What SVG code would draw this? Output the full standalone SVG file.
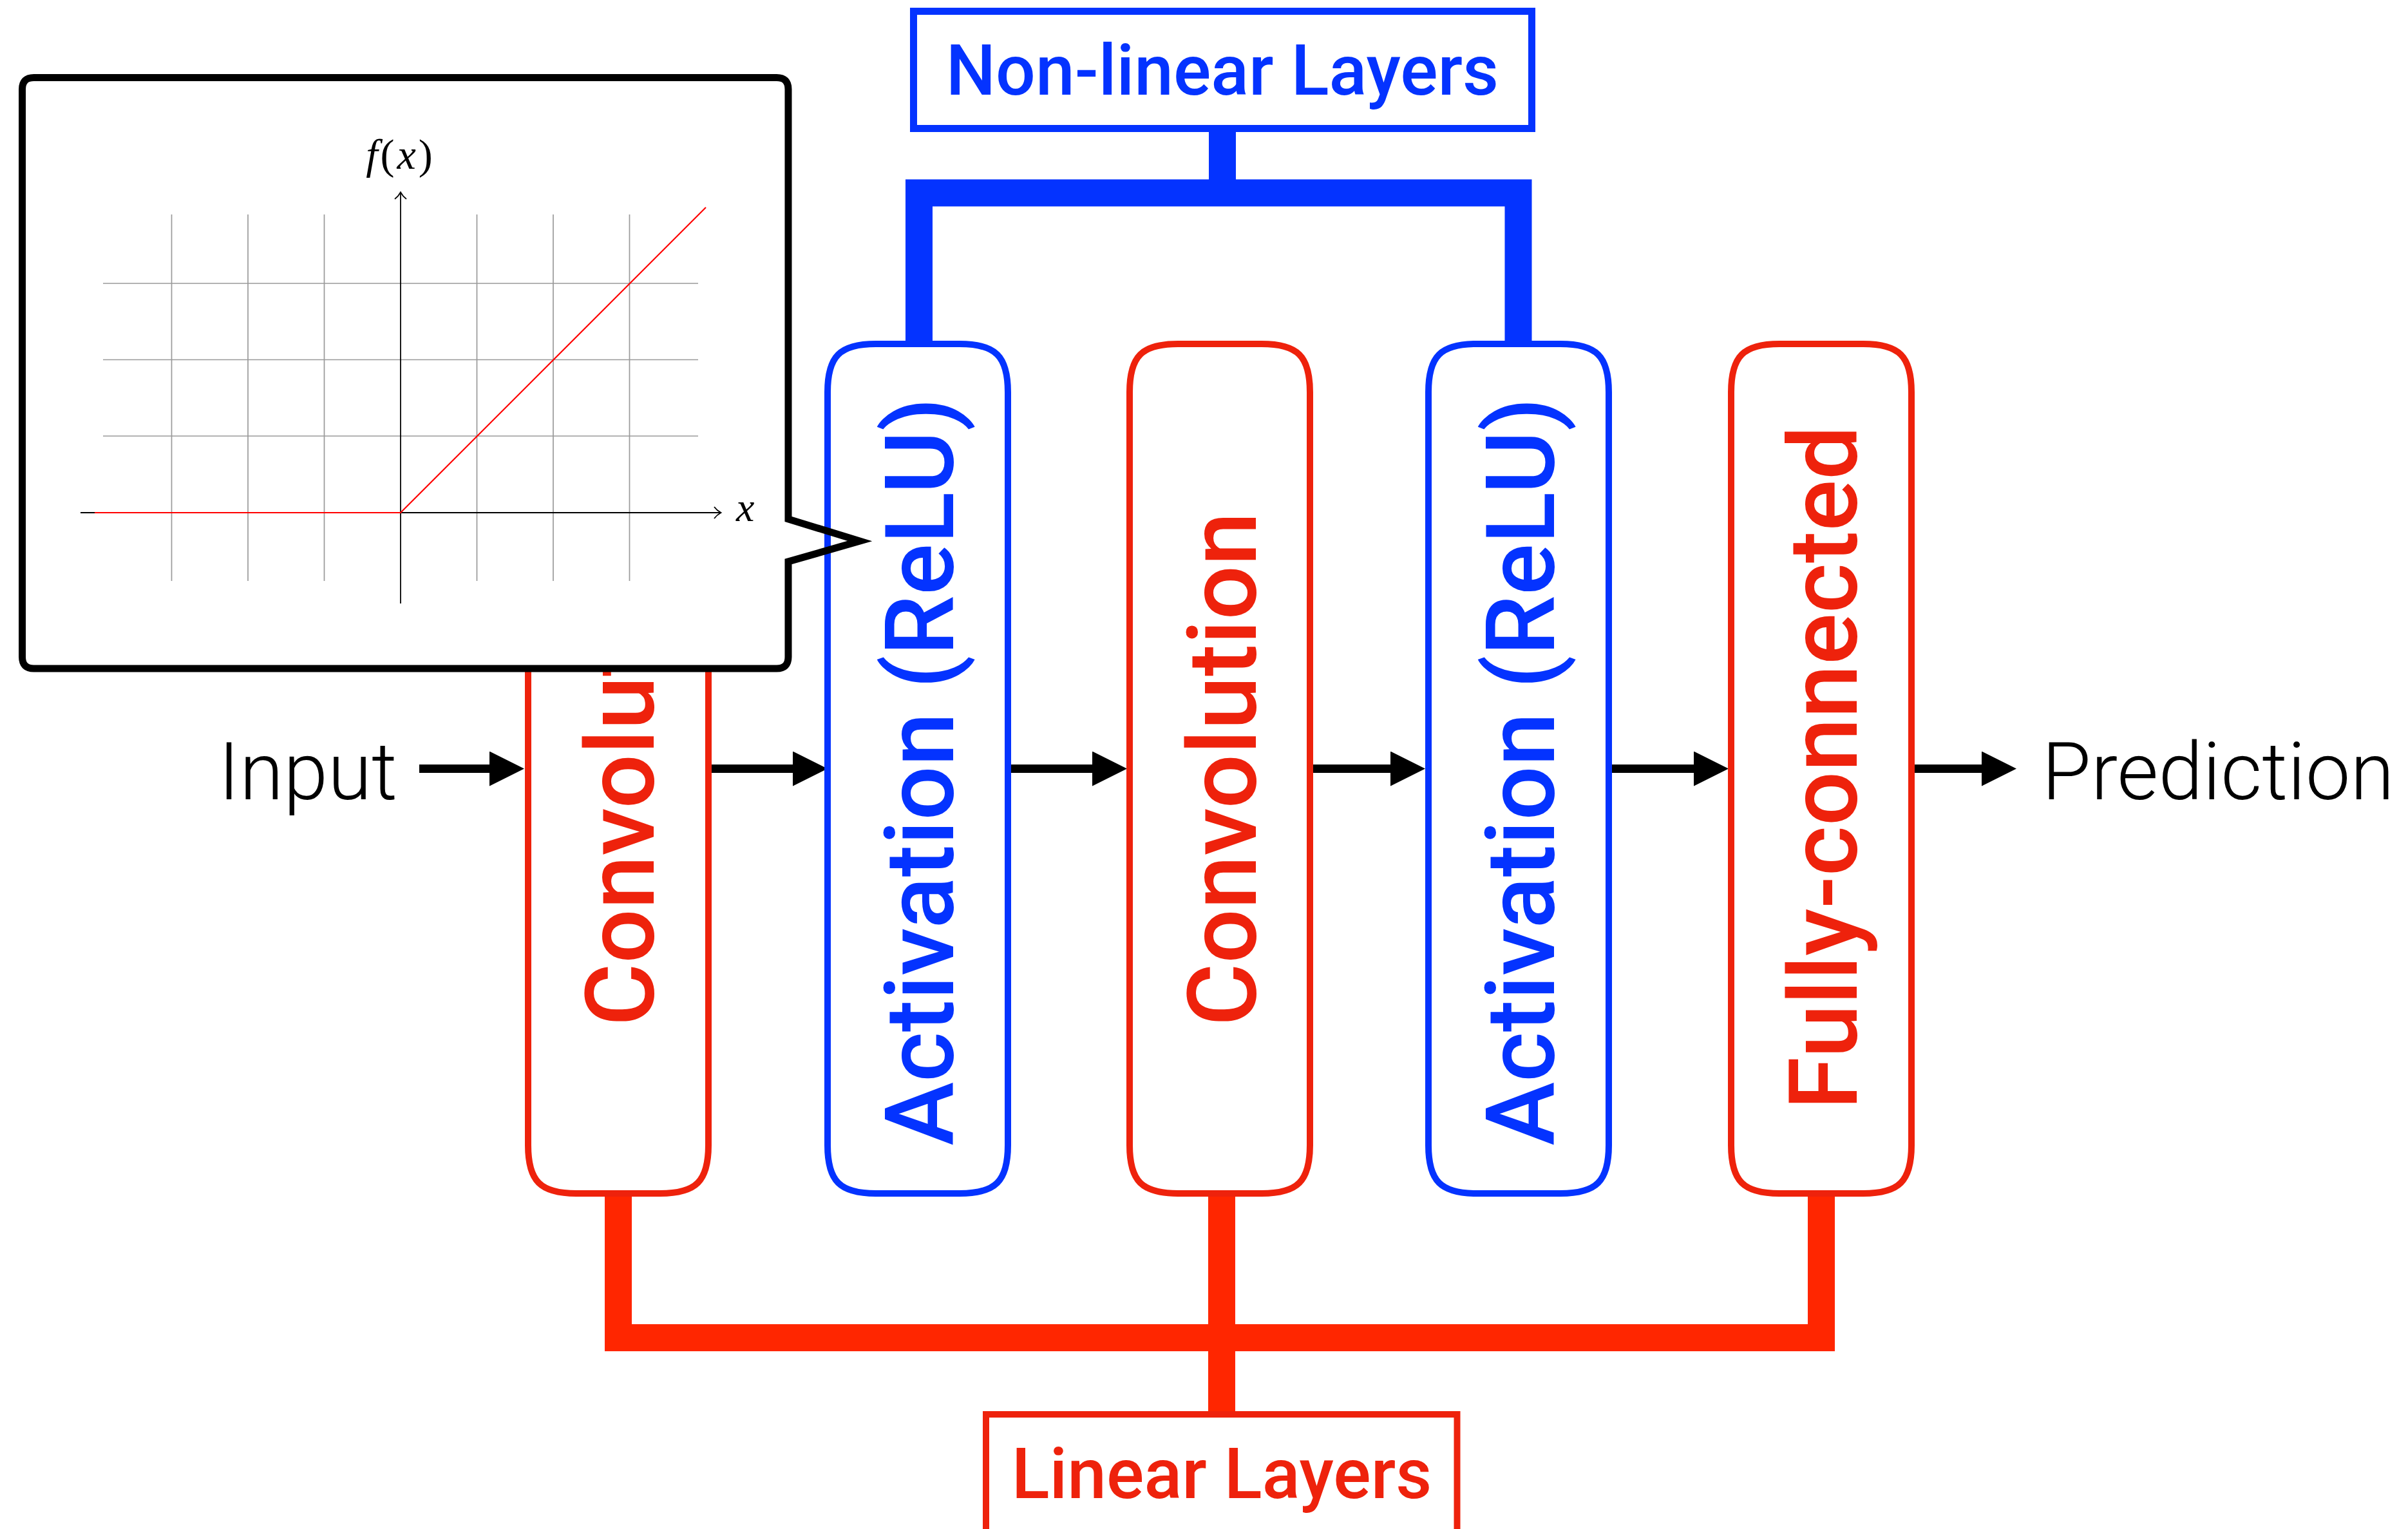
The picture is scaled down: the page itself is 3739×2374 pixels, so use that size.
<svg xmlns="http://www.w3.org/2000/svg" xmlns:xlink="http://www.w3.org/1999/xlink" width="3739" height="2374" viewBox="0 0 3739 2374">
  <style>
    .lbl { font-family: Roboto, "Liberation Sans", "DejaVu Sans", sans-serif; font-weight: 500; font-size: 149px; text-anchor: middle; }
    .title { font-family: Roboto, "Liberation Sans", "DejaVu Sans", sans-serif; font-weight: 500; font-size: 109px; text-anchor: middle; }
    .io { font-family: Roboto, "Liberation Sans", "DejaVu Sans", sans-serif; font-weight: 300; font-size: 124px; text-anchor: middle; fill: #000; }
    .math { font-family: "Liberation Serif", "DejaVu Serif", serif; fill: #000; }
    .red-box { fill: none; stroke: #EE220C; stroke-width: 10; }
    .blue-box { fill: none; stroke: #0433FF; stroke-width: 10; }
    .red-txt { fill: #EE220C; }
    .blue-txt { fill: #0433FF; }
    .flow { stroke: #000; stroke-width: 13; fill: none; marker-end: url(#head); }
    .bus-blue { stroke: #0433FF; stroke-width: 42; fill: none; stroke-linejoin: miter; }
    .bus-red { stroke: #FF2600; stroke-width: 42; fill: none; stroke-linejoin: miter; }
    .grid { stroke: #9a9a9a; stroke-width: 1.7; fill: none; }
    .axis { stroke: #000; stroke-width: 1.8; fill: none; }
  </style>
  <defs>
    <!-- tall layer box with soft continuous corners -->
    <path id="pill" d="M75,0 H205 C261,0 280,19 280,75 V1244 C280,1300 261,1319 205,1319 H75 C19,1319 0,1300 0,1244 V75 C0,19 19,0 75,0 Z"/>
    <marker id="head" markerUnits="userSpaceOnUse" markerWidth="54" markerHeight="54" viewBox="0 0 54 54" refX="2" refY="27" orient="auto">
      <path d="M0,0 L54,27 L0,54 Z" fill="#000"/>
    </marker>
  </defs>

  <rect x="0" y="0" width="3739" height="2374" fill="#fff"/>

  <!-- connectors: data-flow arrows and grouping buses -->
  <g id="connectors">
    <line class="flow" x1="651" y1="1193.5" x2="762" y2="1193.5"/>
    <line class="flow" x1="1100" y1="1193.5" x2="1233" y2="1193.5"/>
    <line class="flow" x1="1570" y1="1193.5" x2="1698" y2="1193.5"/>
    <line class="flow" x1="2038" y1="1193.5" x2="2161" y2="1193.5"/>
    <line class="flow" x1="2501" y1="1193.5" x2="2632" y2="1193.5"/>
    <line class="flow" x1="2973" y1="1193.5" x2="3079" y2="1193.5"/>

    <path class="bus-blue" d="M1427,531 V299.5 H2357.5 V531"/>
    <path class="bus-blue" d="M1898,200 V299.5"/>

    <path class="bus-red" d="M960,1856 V2077 H2828 V1856"/>
    <path class="bus-red" d="M1897,1856 V2194"/>
  </g>

  <g id="input">
    <text class="io" x="478" y="1241">Input</text>
  </g>

  <g id="conv1">
    <use xlink:href="#pill" href="#pill" x="820" y="534" class="red-box"/>
    <text class="lbl red-txt" transform="translate(1015,1194) rotate(-90)">Convolution</text>
  </g>

  <g id="act1">
    <use xlink:href="#pill" href="#pill" x="1285" y="534" class="blue-box"/>
    <text class="lbl blue-txt" transform="translate(1480,1198) rotate(-90)">Activation (ReLU)</text>
  </g>

  <g id="conv2">
    <use xlink:href="#pill" href="#pill" x="1754" y="534" class="red-box"/>
    <text class="lbl red-txt" transform="translate(1950,1194) rotate(-90)">Convolution</text>
  </g>

  <g id="act2">
    <use xlink:href="#pill" href="#pill" x="2218" y="534" class="blue-box"/>
    <text class="lbl blue-txt" transform="translate(2413,1198) rotate(-90)">Activation (ReLU)</text>
  </g>

  <g id="fc">
    <use xlink:href="#pill" href="#pill" x="2688" y="534" class="red-box"/>
    <text class="lbl red-txt" transform="translate(2883,1192) rotate(-90)">Fully-connected</text>
  </g>

  <g id="prediction">
    <text class="io" x="3444" y="1241">Prediction</text>
  </g>

  <g id="nonlinear-layers">
    <rect x="1418.5" y="17.5" width="960" height="182" fill="#fff" stroke="#0433FF" stroke-width="11"/>
    <text class="title blue-txt" x="1898" y="147">Non-linear Layers</text>
  </g>

  <g id="linear-layers">
    <rect x="1531" y="2196" width="731.5" height="200" fill="#fff" stroke="#EE220C" stroke-width="10"/>
    <text class="title red-txt" x="1897" y="2326">Linear Layers</text>
  </g>

  <!-- speech-bubble inset with the ReLU plot -->
  <g id="relu-callout">
    <rect x="34.5" y="120.5" width="1189.5" height="917.5" rx="18" fill="#fff"/>
    <path d="M52.5,120.5 H1206 Q1224,120.5 1224,138.5 V806 L1335,840 L1224,872 V1020 Q1224,1038 1206,1038 H52.5 Q34.5,1038 34.5,1020 V138.5 Q34.5,120.5 52.5,120.5 Z" fill="none" stroke="#000" stroke-width="11" stroke-linejoin="miter"/>

    <g class="grid">
      <line x1="266.5" y1="333" x2="266.5" y2="902"/>
      <line x1="385" y1="333" x2="385" y2="902"/>
      <line x1="503.5" y1="333" x2="503.5" y2="902"/>
      <line x1="740.5" y1="333" x2="740.5" y2="902"/>
      <line x1="859" y1="333" x2="859" y2="902"/>
      <line x1="977.5" y1="333" x2="977.5" y2="902"/>
      <line x1="160" y1="440" x2="1084" y2="440"/>
      <line x1="160" y1="558.5" x2="1084" y2="558.5"/>
      <line x1="160" y1="677" x2="1084" y2="677"/>
    </g>

    <g class="axis">
      <line x1="125" y1="796" x2="1119" y2="796"/>
      <path d="M1109,787 Q1113,792.5 1119.5,796 Q1113,799.5 1109,805"/>
      <line x1="622" y1="937" x2="622" y2="299"/>
      <path d="M613,309 Q618.5,305 622,298.5 Q625.5,305 631,309"/>
    </g>

    <polyline points="147,796 622,796 1096,322" fill="none" stroke="#ff0000" stroke-width="2.2"/>

    <text class="math" x="622" y="262" font-size="66" letter-spacing="4" text-anchor="middle"><tspan font-style="italic">f</tspan>(<tspan font-style="italic">x</tspan>)</text>
    <text class="math" x="1143" y="809" font-size="64" font-style="italic">x</text>
  </g>
</svg>
